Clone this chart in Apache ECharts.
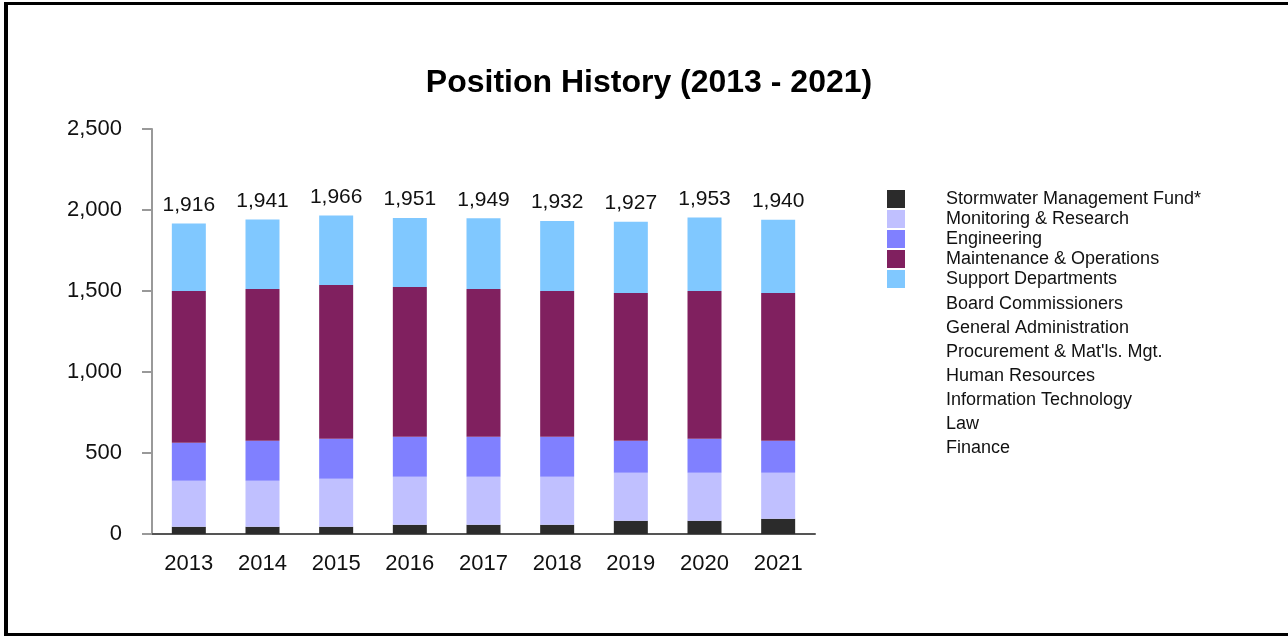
<!DOCTYPE html>
<html>
<head>
<meta charset="utf-8">
<script src="https://cdn.jsdelivr.net/npm/echarts@6/dist/echarts.min.js"></script>
<style>
    html, body { margin: 0; padding: 0; background: #fff; }
    #main { position: absolute; left: 0; top: 0; width: 1288px; height: 636px; }
    #frame {
        position: absolute; left: 4px; top: 2px; width: 1300px; height: 628px;
        border-top: 3px solid #000; border-left: 4px solid #000; border-bottom: 3px solid #000;
        pointer-events: none;
    }
</style>
</head>
<body>
<div id="main"></div>
<div id="frame"></div>
<script>
    var years = ['2013', '2014', '2015', '2016', '2017', '2018', '2019', '2020', '2021'];
    var stormwater  = [45, 45, 45, 57, 57, 57, 82, 82, 94];
    var monitoring  = [284, 284, 296, 296, 296, 296, 296, 296, 284];
    var engineering = [234, 246, 247, 247, 247, 247, 197, 210, 197];
    var maintenance = [937, 937, 949, 925, 912, 900, 913, 912, 913];
    var support     = [416, 429, 429, 426, 437, 432, 439, 453, 452];
    var totals      = [1916, 1941, 1966, 1951, 1949, 1932, 1927, 1953, 1940];
    // sub-departments listed in the legend with no bars of their own
    var supportParts = ['Board Commissioners', 'General Administration', 'Procurement & Mat\'ls. Mgt.',
        'Human Resources', 'Information Technology', 'Law', 'Finance'];

    var mainNames = ['Stormwater Management Fund*', 'Monitoring & Research', 'Engineering',
        'Maintenance & Operations', 'Support Departments'];
    var mainData = [stormwater, monitoring, engineering, maintenance, support];
    var colors = ['#2b2b2b', '#c0c0ff', '#8080ff', '#80205f', '#80c8ff'];

    var font = 'Liberation Sans, Arial, sans-serif';

    var series = [];
    for (var i = 0; i < mainNames.length; i++) {
        var s = {
            name: mainNames[i],
            type: 'bar',
            stack: 'all',
            barWidth: 34,
            itemStyle: { color: colors[i] },
            data: mainData[i]
        };
        if (i === mainNames.length - 1) {
            s.label = {
                show: true,
                position: 'top',
                distance: 8,
                color: '#111',
                fontSize: 21,
                fontFamily: font,
                formatter: function (p) {
                    return totals[p.dataIndex].toLocaleString('en-US');
                }
            };
        }
        series.push(s);
    }
    for (var j = 0; j < supportParts.length; j++) {
        series.push({
            name: supportParts[j],
            type: 'bar',
            stack: 'all',
            itemStyle: { color: 'rgba(0,0,0,0)' },
            data: []
        });
    }

    var myChart = echarts.init(document.getElementById('main'));
    var option = {
        animation: false,
        title: {
            text: 'Position History (2013 - 2021)',
            left: 644,
            textAlign: 'center',
            top: 62,
            textStyle: { fontSize: 32, fontWeight: 'bold', color: '#000', fontFamily: font }
        },
        legend: [{
            data: mainNames,
            orient: 'vertical',
            left: 882,
            top: 185,
            itemWidth: 18,
            itemHeight: 18,
            itemGap: 2,
            icon: 'rect',
            textStyle: { fontSize: 18, color: '#111', fontFamily: font, padding: [0, 0, 0, 36] }
        }, {
            data: supportParts,
            orient: 'vertical',
            left: 882,
            top: 290,
            itemWidth: 18,
            itemHeight: 18,
            itemGap: 6,
            icon: 'rect',
            textStyle: { fontSize: 18, color: '#111', fontFamily: font, padding: [0, 0, 0, 36] }
        }],
        grid: { left: 152, right: 473, top: 129, bottom: 102 },
        xAxis: {
            type: 'category',
            data: years,
            axisLine: { lineStyle: { color: '#555', width: 2 } },
            axisTick: { alignWithLabel: true, length: 11, lineStyle: { color: '#999', width: 2 } },
            axisLabel: { color: '#111', fontSize: 22, fontFamily: font, margin: 19 }
        },
        yAxis: {
            type: 'value',
            min: 0,
            max: 2500,
            interval: 500,
            axisLine: { show: true, lineStyle: { color: '#999', width: 2 } },
            axisTick: { show: true, length: 10, lineStyle: { color: '#999', width: 2 } },
            splitLine: { show: false },
            axisLabel: {
                color: '#111', fontSize: 22, fontFamily: font, margin: 30,
                formatter: function (v) { return v.toLocaleString('en-US'); }
            }
        },
        series: series
    };
    myChart.setOption(option);
</script>
</body>
</html>
